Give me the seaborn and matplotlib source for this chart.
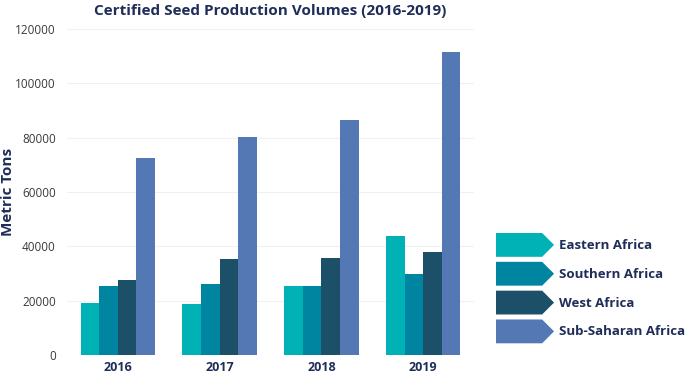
import pandas as pd
import seaborn as sns
import matplotlib.pyplot as plt
from matplotlib.patches import Patch, Polygon
from matplotlib.legend_handler import HandlerPatch

years = ['2016', '2017', '2018', '2019']
regions = ['Eastern Africa', 'Southern Africa', 'West Africa', 'Sub-Saharan Africa']
eastern = [19100, 18800, 25400, 43800]
southern = [25300, 26000, 25300, 29900]
west = [27600, 35200, 35700, 37800]
ssa = [72400, 80200, 86500, 111600]
colors = ['#00B1B5', '#0085A1', '#1B5068', '#5378B4']

navy = '#1F2D58'

df = pd.DataFrame({
    'year': years * 4,
    'region': [r for r in regions for _ in years],
    'tons': eastern + southern + west + ssa,
})


class ArrowHandler(HandlerPatch):
    def create_artists(self, legend, orig_handle, xdescent, ydescent,
                       width, height, fontsize, trans):
        x0, y0 = -xdescent, -ydescent
        tip = height * 0.5
        pts = [(x0, y0), (x0 + width - tip, y0), (x0 + width, y0 + height / 2),
               (x0 + width - tip, y0 + height), (x0, y0 + height)]
        p = Polygon(pts, closed=True, facecolor=orig_handle.get_facecolor(),
                    edgecolor='none', transform=trans)
        return [p]


sns.set_style('white')
plt.rcParams['font.family'] = ['Open Sans', 'DejaVu Sans']

fig = plt.figure(figsize=(6.85, 3.76), dpi=100)
ax = fig.add_axes([67 / 685, 1 - 355 / 376, 407 / 685, 326 / 376])

sns.barplot(data=df, x='year', y='tons', hue='region', palette=colors,
            saturation=1, width=0.73, linewidth=0, ax=ax, legend=False)

ax.set_ylim(0, 120000)
ax.set_xlim(-0.5, 3.5)
ax.set_yticks(range(0, 120001, 20000))
ax.grid(axis='y', color='#F0F0F0', linewidth=0.8)
ax.set_axisbelow(True)
for s in ax.spines.values():
    s.set_visible(False)
ax.tick_params(axis='y', labelsize=8.5, labelcolor='#3A3A3A', length=0, pad=8)
ax.tick_params(axis='x', labelsize=9, labelcolor=navy, length=0, pad=4)
for lbl in ax.get_xticklabels():
    lbl.set_fontweight('bold')
ax.set_xlabel('')
ax.set_ylabel('Metric Tons', fontsize=11, fontweight='bold', color=navy)
ax.yaxis.set_label_coords(-0.128, 0.5)
ax.set_title('Certified Seed Production Volumes (2016-2019)', fontsize=11,
             fontweight='bold', color=navy, pad=10)

handles = [Patch(facecolor=c, label=r) for c, r in zip(colors, regions)]
fig.legend(handles=handles, handler_map={Patch: ArrowHandler()},
           loc='upper left', bbox_to_anchor=(496 / 685, 1 - 233 / 376),
           frameon=False, borderpad=0, borderaxespad=0,
           handlelength=4.4, handleheight=2.4, labelspacing=0.38,
           handletextpad=0.4,
           prop={'size': 9.5, 'weight': 'bold'}, labelcolor=navy)

plt.savefig('out.png', dpi=100)
